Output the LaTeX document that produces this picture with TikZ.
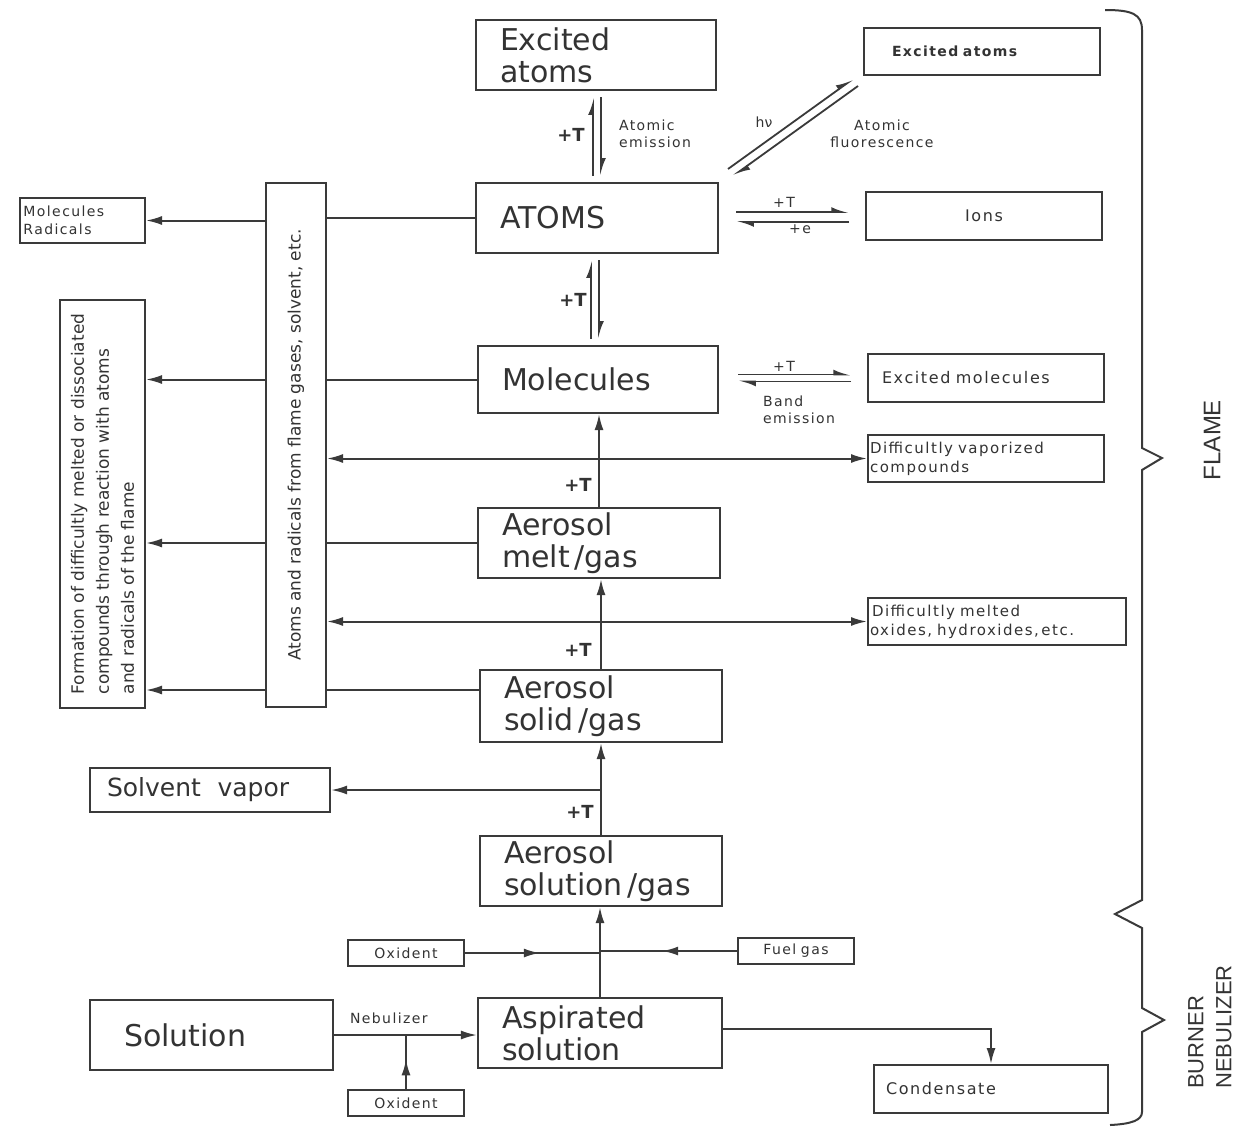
\documentclass[tikz,border=0pt]{standalone}
\usepackage{fontspec}
\setmainfont{DejaVu Sans}
\newfontfamily\lbl[LetterSpace=10]{DejaVu Sans}
\newfontfamily\flm{Liberation Sans}
\usetikzlibrary{arrows.meta,decorations.markings}
\definecolor{ink}{HTML}{3A3A3A}
\definecolor{txt}{HTML}{333333}
\begin{document}
\begin{tikzpicture}[x=0.5pt,y=-0.5pt,
  big/.style={draw=ink, line width=1.1pt, font=\fontsize{15}{16}\selectfont, align=left, inner xsep=12pt, inner ysep=0pt, text=txt},
  sml/.style={draw=ink, line width=1pt, font=\lbl\fontsize{8}{10}\selectfont, align=left, inner xsep=4pt, inner ysep=0pt, text=txt},
  rtxt/.style={rotate=90, font=\fontsize{8.5}{12.5}\selectfont, align=left, text=txt},
  tee/.style={font=\bfseries\fontsize{9}{10}\selectfont, text=txt},
  lab/.style={font=\lbl\fontsize{7}{8.5}\selectfont, text=txt},
  con/.style={draw=ink, line width=1pt},
  arr/.style={draw=ink, line width=1pt, -{Latex[length=8pt,width=4.5pt]}},
  dbl/.style={draw=ink, line width=1pt, {Latex[length=8pt,width=4.5pt]}-{Latex[length=8pt,width=4.5pt]}},
  harp/.style={draw=ink, line width=0.9pt, -{Latex[left,length=7pt,width=5pt]}},
  midarr/.style={draw=ink, line width=1pt, decoration={markings, mark=at position 0.55 with {\arrow{Latex[length=8pt,width=4.5pt]}}}, postaction=decorate}
]
\useasboundingbox[fill=white] (0,0) rectangle (1247,1135);

% main column
\node[big, minimum width=120pt, minimum height=35pt, text width=96pt] (exA) at (596,55) {Excited\\atoms};
\node[big, minimum width=121pt, minimum height=35pt, text width=97pt] (atoms) at (597,218) {ATOMS};
\node[big, minimum width=120pt, minimum height=33.5pt, text width=96pt] (mol) at (598,379.5) {Molecules};
\node[big, minimum width=121pt, minimum height=35pt, text width=97pt] (melt) at (599,543) {Aerosol\\melt\,/gas};
\node[big, minimum width=121pt, minimum height=36pt, text width=97pt] (solid) at (601,706) {Aerosol\\solid\,/gas};
\node[big, minimum width=121pt, minimum height=35pt, text width=97pt, inner xsep=8pt] (sol) at (601,871) {Aerosol\\solution\,/gas};
\node[big, minimum width=122pt, minimum height=35pt, text width=98pt] (asp) at (600,1033) {Aspirated\\solution};
\node[big, minimum width=121.5pt, minimum height=35pt, text width=87.5pt, inner xsep=17pt] (solution) at (211.5,1035) {Solution};
\node[big, font=\fontsize{12.5}{14}\selectfont, minimum width=120pt, minimum height=22pt, text width=103pt, inner xsep=8.5pt] (solv) at (210,790) {Solvent\ \ vapor};

% right column
\node[sml, minimum width=118pt, minimum height=23.5pt, text width=106pt, inner xsep=6pt, font=\lbl\bfseries\fontsize{7}{9}\selectfont] (exAs) at (982,51.5) {\hspace{8pt}Excited atoms};
\node[sml, minimum width=118pt, minimum height=24pt, align=center, text width=110pt] (ions) at (984,216) {Ions};
\node[sml, minimum width=118pt, minimum height=24pt, text width=108pt, inner xsep=5pt] (exmol) at (986,378) {\hspace{2pt}Excited molecules};
\node[sml, minimum width=118pt, minimum height=23.5pt, text width=116pt, inner xsep=1pt, font=\lbl\fontsize{7.5}{9.5}\selectfont] (dvc) at (986,458.5) {Difficultly vaporized\\compounds};
\node[sml, minimum width=129pt, minimum height=23.5pt, text width=127pt, inner xsep=1pt, font=\lbl\fontsize{7.5}{9.5}\selectfont] (dmo) at (997,621.5) {\hspace{1pt}Difficultly melted\\oxides, hydroxides,\,etc.};
\node[sml, minimum width=117pt, minimum height=24pt, text width=105pt, inner xsep=6pt] (cond) at (991,1089) {Condensate};
\node[sml, minimum width=56pt, minimum height=13pt, align=center, text width=50pt, font=\lbl\fontsize{7}{8}\selectfont] (ox1) at (406,953) {Oxident};
\node[sml, minimum width=56pt, minimum height=13pt, align=center, text width=50pt, font=\lbl\fontsize{7}{8}\selectfont] (fuel) at (796,951) {Fuel gas};
\node[sml, minimum width=56pt, minimum height=13pt, align=center, text width=50pt, font=\lbl\fontsize{7}{8}\selectfont] (ox2) at (406,1103) {Oxident};

% left column
\node[sml, minimum width=62.5pt, minimum height=22.5pt, text width=59pt, inner xsep=1.5pt, font=\lbl\fontsize{7}{9}\selectfont] (molrad) at (82.5,220.5) {Molecules\\Radicals};
\node[draw=ink, line width=1pt, minimum width=30pt, minimum height=262pt, inner sep=0pt] (vbox) at (296,445) {};
\node[rtxt] (vtxt) at (vbox.center) {Atoms and radicals from flame gases, solvent, etc.};
\node[draw=ink, line width=1pt, minimum width=42.5pt, minimum height=204pt, inner sep=0pt] (form) at (102.5,504) {};
\node[rtxt] (ftxt) at (form.center) {Formation of difficultly melted or dissociated\\compounds through reaction with atoms\\and radicals of the flame};

% vertical pair arrows
\draw[harp, shorten >=3pt, shorten <=3pt] ([xshift=-2pt]atoms.north) -- ([xshift=-2pt]atoms.north |- exA.south);
\draw[harp, shorten >=3pt, shorten <=3pt] ([xshift=2pt]atoms.north |- exA.south) -- ([xshift=2pt]atoms.north);
\draw[harp, shorten >=3pt, shorten <=3pt] ([xshift=-3pt]atoms.south |- mol.north) -- ([xshift=-3pt]atoms.south);
\draw[harp, shorten >=3pt, shorten <=3pt] ([xshift=1pt]atoms.south) -- ([xshift=1pt]atoms.south |- mol.north);
\node[tee] (t1) at (571,135) {+T};
\node[tee] (t2) at (573,300) {+T};
\node[lab, align=left, anchor=west] (ae) at (612,134) {Atomic\\emission};

% fluorescence
\coordinate (f1) at (728,169);
\coordinate (f2) at (853,79);
\coordinate (f3) at (858,86);
\coordinate (f4) at (733,176);
\draw[harp] (f1) -- (f2);
\draw[harp] (f3) -- (f4);
\node[font=\fontsize{7}{8.5}\selectfont, text=txt] (hv) at (764,122) {hν};
\node[lab, align=center] (af) at (882,134) {Atomic\\fluorescence};

% ions
\draw[harp] ([shift={(8.5pt,3pt)}]atoms.east) -- ++(56.5pt,0);
\draw[harp] ([shift={(65pt,-2pt)}]atoms.east) -- ++(-56.5pt,0);
\node[lab] (it) at (784,202) {+T};
\node[lab] (ie) at (800,229) {+e};

% molecules -> excited molecules
\draw[harp] ([shift={(9.5pt,2.5pt)}]mol.east) -- ++(56.5pt,0);
\draw[harp] ([shift={(66pt,-1pt)}]mol.east) -- ++(-56.5pt,0);
\node[lab] (mt) at (784,366) {+T};
\node[lab, align=left, anchor=north west] (be) at (756,389) {Band\\emission};

% left connections
\draw[con] (atoms.west) -- (vbox.east |- atoms.west);
\draw[arr] (vbox.west |- molrad.east) -- (molrad.east);
\draw[con] (mol.west) -- (vbox.east |- mol.west);
\draw[arr] (vbox.west |- mol.west) -- (form.east |- mol.west);
\draw[con] (melt.west) -- (vbox.east |- melt.west);
\draw[arr] (vbox.west |- melt.west) -- (form.east |- melt.west);
\coordinate (s1) at ([yshift=8pt]solid.west);
\draw[con] (s1) -- (vbox.east |- s1);
\draw[arr] (vbox.west |- s1) -- (form.east |- s1);
\draw[dbl] (vbox.east |- dvc.west) -- (dvc.west);
\draw[dbl] (vbox.east |- dmo.west) -- (dmo.west);

% main up arrows
\draw[arr] (melt.north) -- (melt.north |- mol.south);
\draw[arr] (solid.north) -- (solid.north |- melt.south);
\draw[arr] (sol.north) -- (sol.north |- solid.south);
\draw[arr] (asp.north) -- (asp.north |- sol.south);
\node[tee] (t3) at (578,485) {+T};
\node[tee] (t4) at (578,650) {+T};
\node[tee] (t5) at (580,812) {+T};

% solvent vapor
\draw[arr] (sol.north |- solv.east) -- (solv.east);

% burner gases
\draw[midarr] (ox1.east) -- (sol.south |- ox1.east);
\draw[midarr] (fuel.west) -- (sol.south |- fuel.west);

% nebulizer
\draw[arr] (solution.east) -- (asp.west |- solution.east);
\node[lab, anchor=south west] (neb) at (343,1031) {Nebulizer};
\draw[midarr] (ox2.north) -- (ox2.north |- solution.east);

% condensate
\draw[arr] ([yshift=2pt]asp.east) -| (cond.north);

% braces
\draw[ink, line width=1pt] (1105,10) .. controls (1132,10) and (1142,14) .. (1142,30) -- (1142,448) -- (1162,458) -- (1142,470) -- (1142,900) -- (1115,914) -- (1142,928) -- (1142,1008) -- (1164,1020) -- (1142,1032) -- (1142,1112) .. controls (1142,1120) and (1132,1124) .. (1110,1125);
\node[rotate=90, font=\flm\fontsize{12}{13}\selectfont, text=txt] (flame) at (1212,440) {FLAME};
\node[rotate=90, font=\flm\fontsize{11}{14}\selectfont, align=left, text=txt] (bn) at (1210,1027) {BURNER\\NEBULIZER};
\end{tikzpicture}
\end{document}
